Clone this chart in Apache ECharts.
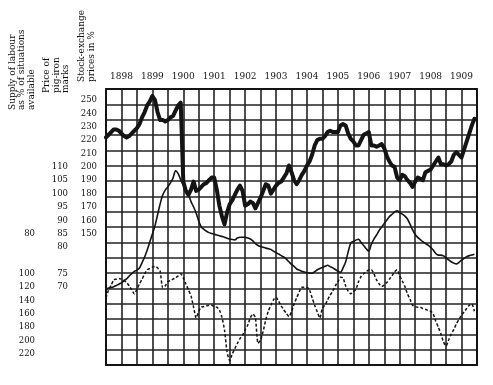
<!DOCTYPE html>
<html><head><meta charset="utf-8">
<script src="https://cdn.jsdelivr.net/npm/echarts@6/dist/echarts.min.js"></script>
<style>html,body{margin:0;padding:0;background:#fff}#c{width:493px;height:385px}</style>
</head><body><div id="c"></div>
<script>
// ---------- DATA ----------
const yearLabels = ['1898','1899','1900','1901','1902','1903','1904','1905','1906','1907','1908','1909'];
const firstYear = 1898;            // monthly observations, Jan 1898 – Dec 1909
// tick labels, one entry per printed label row (blank = no label)
const stockTickLabels  = ['250','240','230','220','210','200','190','180','170','160','150'];
const pigTickLabels    = ['','','','','','110','105','100','95','90','85','80','','75','70'];
const labourTickLabels = ['','','','','','','','','','','80','','','100','120','140','160','180','200','220'];
// Stock-exchange prices in %
const stockPrices = [
 222,224,226,228,228,227,225,223,222,223,225,227,
 229,232,237,241,246,249,253,250,241,235,235,234,
 235,237,238,242,246,248,189,182,179,183,189,182,
 183,185,187,188,190,192,192,183,171,163,157,166,
 172,175,179,183,186,182,171,172,174,173,169,173,
 177,182,187,186,180,183,186,188,189,192,195,201,
 196,190,187,190,194,197,201,204,209,216,220,221,
 221,223,226,227,226,226,226,231,232,231,225,221,
 219,216,216,220,224,225,226,216,216,215,216,217,
 214,208,204,201,200,192,190,194,193,190,188,185,
 189,192,191,190,196,197,198,201,204,207,202,202,
 201,202,204,209,211,209,207,213,219,225,231,236];
// Price of pig-iron, marks
const pigIronPrices = [
 64.3,64.7,64.9,65.2,65.6,66.1,66.6,67.5,68.1,69.2,70.1,70.9,
 71.4,72.2,74.2,76.3,78.9,81.9,84.9,87.9,92,96.1,99.5,101.3,
 102.5,104,105.8,108.5,107.5,105.1,103.2,101.2,99.5,97,95,92.7,
 89.7,87.5,86.6,85.9,85.4,85.1,84.8,84.5,84.2,84,83.7,83.3,
 83,82.8,82.7,83.4,83.7,83.7,83.7,83.4,83,82.3,81.3,80.6,
 80.2,79.9,79.6,79.4,79.1,78.5,77.9,77.4,76.8,76.3,75.5,74.5,
 73.5,72.8,71.8,71.4,71,70.7,70.4,70.3,70.2,70.8,71.5,72,
 72.4,72.8,73.2,72.7,72.2,71.6,71,70.5,72.2,74.4,78.2,81.5,
 82.1,82.6,82.9,81.7,80.6,79.4,78.5,81.1,83,84.5,86.2,87.5,
 88.8,90.1,91.4,92.2,93.1,93.6,92.9,92.3,91.6,90.5,88.6,86.4,
 84.7,83.6,82.8,82,81.3,80.7,79.9,78.9,77.6,77,77,76.7,
 76,75.2,74.5,74,73.7,74.3,75.1,75.8,76.4,76.8,77,77.3];
// Supply of labour as % of situations available
const labourSupply = [
 136,124,117,109,108,107,108,110,113,118,124,130,
 123,115,108,100,94,92,90,89,91,96,121,118,
 112,110,108,106,103,100,106,115,124,133,150,166,
 156,150,149,148,147,147,149,150,154,165,184,217,
 230,220,212,204,197,192,184,177,166,160,166,204,
 199,186,169,156,147,139,135,141,148,154,159,164,
 157,145,136,127,120,120,120,124,136,147,157,166,
 151,147,139,132,126,118,112,105,106,118,126,130,
 127,123,112,104,100,97,94,94,100,109,115,119,
 117,113,108,103,97,94,103,111,119,130,138,147,
 149,150,150,152,153,155,156,160,171,180,190,202,
 208,199,190,183,175,168,162,157,152,147,145,156];

// ---------- LAYOUT ----------
const W = 493, H = 385;
const FONT = 'DejaVu Serif';
const INK = '#141414';
const G = {left:106, top:89, right:16, bottom:20};
const ROW0 = 100, ROWH = 13.37, NROWS = 19;     // printed label rows
const rTop = (G.top - ROW0) / ROWH;
const rBot = (H - G.bottom - ROW0) / ROWH;
const stockAt = r => 250 - 10 * r;
const pigAt = r => 110 - 5 * (r - 5);
const labAt = r => 100 + 20 * (r - 13);

const toXY = arr => arr.map((v, i) => [firstYear + i / 12, v]);

const hiddenY = (extra) => Object.assign({
  type:'value', gridIndex:0, show:false, scale:true
}, extra);

const labelAxis = (labels, offset) => ({
  type:'value', gridIndex:1, min:0, max:NROWS, interval:1, inverse:true,
  position:'left', offset:offset,
  axisLine:{show:false}, axisTick:{show:false}, splitLine:{show:false},
  axisLabel:{show:true, margin:9, fontFamily:FONT, fontSize:8.5, color:INK,
    formatter: v => labels[Math.round(v)] || ''}
});

const chart = echarts.init(document.getElementById('c'), null, {renderer:'canvas'});
chart.setOption({
  animation:false,
  backgroundColor:'#fff',
  grid:[
    {left:G.left, top:G.top, right:G.right, bottom:G.bottom},
    {left:G.left, top:ROW0, right:G.right, height:ROWH * NROWS}
  ],
  xAxis:[
    {type:'value', gridIndex:0, min:firstYear, max:firstYear + yearLabels.length, interval:0.5,
     axisLine:{show:true, onZero:false, lineStyle:{color:INK, width:2}}, axisTick:{show:false}, axisLabel:{show:false},
     splitLine:{show:true, lineStyle:{color:'#222', width:1.6}}},
    {type:'category', gridIndex:0, position:'top', data:yearLabels, boundaryGap:true,
     axisLine:{show:true, onZero:false, lineStyle:{color:INK, width:2}}, axisTick:{show:false},
     axisLabel:{show:true, interval:0, margin:8, fontFamily:FONT, fontSize:9, color:INK}},
    {type:'value', gridIndex:1, show:false, min:0, max:1, axisLine:{onZero:false}}
  ],
  yAxis:[
    hiddenY({min:stockAt(rBot), max:stockAt(rTop)}),
    hiddenY({min:pigAt(rBot), max:pigAt(rTop)}),
    hiddenY({min:labAt(rTop), max:labAt(rBot), inverse:true}),
    {type:'value', gridIndex:0, min:0, max:18, interval:1, position:'left',
     axisLine:{show:true, onZero:false, lineStyle:{color:INK, width:2}}, axisTick:{show:false}, axisLabel:{show:false},
     splitLine:{show:true, lineStyle:{color:'#222', width:1.6}}},
    {type:'value', gridIndex:0, min:0, max:18, position:'right',
     axisLine:{show:true, onZero:false, lineStyle:{color:INK, width:2}}, axisTick:{show:false}, axisLabel:{show:false},
     splitLine:{show:false}},
    labelAxis(stockTickLabels, 0),
    labelAxis(pigTickLabels, 29),
    labelAxis(labourTickLabels, 62)
  ],
  series:[
    {name:'Supply of labour', type:'line', xAxisIndex:0, yAxisIndex:2, data:toXY(labourSupply),
     showSymbol:false, smooth:0.2, lineStyle:{color:INK, width:1.5, type:[3,2]}},
    {name:'Price of pig-iron', type:'line', xAxisIndex:0, yAxisIndex:1, data:toXY(pigIronPrices),
     showSymbol:false, smooth:0.3, lineStyle:{color:INK, width:1.6}},
    {name:'Stock-exchange prices', type:'line', xAxisIndex:0, yAxisIndex:0, data:toXY(stockPrices),
     showSymbol:false, lineStyle:{color:INK, width:4, join:'round', cap:'round'}}
  ],
  graphic:[
    {type:'text', x:8, y:110, rotation:Math.PI/2,
     style:{text:'Supply of labour\nas % of situations\navailable', font:'9px "DejaVu Serif"', fill:INK,
            textAlign:'left', textVerticalAlign:'top', lineHeight:9.3}},
    {type:'text', x:42, y:93, rotation:Math.PI/2,
     style:{text:'Price of\npig-iron\nmarks', font:'9px "DejaVu Serif"', fill:INK,
            textAlign:'left', textVerticalAlign:'top', lineHeight:9.5}},
    {type:'text', x:77, y:82, rotation:Math.PI/2,
     style:{text:'Stock-exchange\nprices in %', font:'9px "DejaVu Serif"', fill:INK,
            textAlign:'left', textVerticalAlign:'top', lineHeight:10}}
  ]
});
</script>
</body></html>
